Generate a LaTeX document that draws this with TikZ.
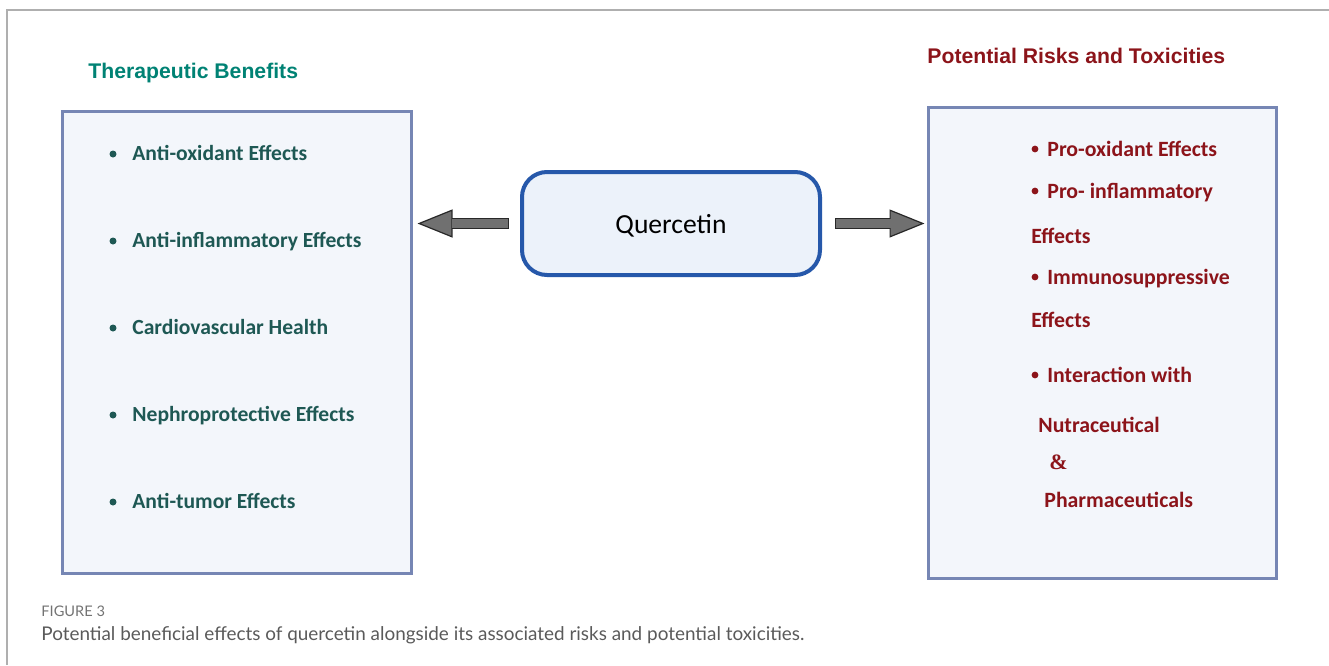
\documentclass[tikz,border=0pt]{standalone}
\usepackage{fontspec}
\setmainfont{Carlito}
\newfontfamily\headfont{Liberation Sans}
\newfontfamily\capfont{Lato}
\newfontfamily\ampfont{Liberation Serif}
\usetikzlibrary{arrows.meta}

\definecolor{framegray}{RGB}{175,175,175}
\definecolor{boxline}{RGB}{118,134,180}
\definecolor{boxfill}{RGB}{243,246,251}
\definecolor{qline}{RGB}{38,88,170}
\definecolor{qfill}{RGB}{236,242,250}
\definecolor{benefithead}{RGB}{0,130,116}
\definecolor{benefittext}{RGB}{30,88,84}
\definecolor{riskred}{RGB}{140,20,26}
\definecolor{arrowgray}{RGB}{112,112,112}
\definecolor{arrowline}{RGB}{40,40,40}
\definecolor{capgray}{RGB}{90,90,90}

\tikzset{
  listbox/.style={draw=boxline, line width=1.5pt, fill=boxfill, inner sep=0pt},
  centrebox/.style={draw=qline, line width=2pt, fill=qfill, rounded corners=12.5pt,
    minimum width=149pt, minimum height=51.5pt, text depth=0pt, font=\fontsize{13.8}{16}\selectfont},
  headline/.style={anchor=base west, inner sep=0pt, font=\headfont\bfseries\fontsize{10.6}{12}\selectfont},
  benefititem/.style={anchor=base west, inner sep=0pt, text=benefittext, font=\bfseries\fontsize{10.8}{12}\selectfont},
  riskitem/.style={anchor=base west, inner sep=0pt, text=riskred, font=\bfseries\fontsize{10.9}{12}\selectfont},
  fatarrow/.style={draw=arrowline, line width=5.5pt,
    -{Triangle[line width=0.6pt, length=17.5pt, width=14pt, fill=arrowgray]},
    postaction={draw=arrowgray, line width=4.3pt, -, shorten <=0.6pt, shorten >=17pt}}
}

\begin{document}
\begin{tikzpicture}[x=0.5pt,y=-0.5pt]
    \useasboundingbox (0,0) rectangle (1329,665);
    \draw[framegray, line width=0.8pt] (7,665) -- (7,10) -- (1329,10);

    % the three boxes
    \node[listbox, minimum width=174.5pt, minimum height=231pt] (benefits) at (236.5,342) {};
    \node[listbox, minimum width=174pt, minimum height=235.5pt] (risks) at (1102,342.5) {};
    \node[centrebox] (quercetin) at (671,223.5) {Quercetin};

    % arrows out of the middle box
    \path (benefits.east |- quercetin.west) ++(5,0) coordinate (ltip);
    \path (risks.west |- quercetin.east) ++(-2,0) coordinate (rtip);
    \draw[fatarrow] ([xshift=-5.5pt]quercetin.west) -- (ltip);
    \draw[fatarrow] ([xshift=6.5pt]quercetin.east) -- (rtip);

    \node[headline, text=benefithead] (benefithd) at (88,78) {Therapeutic Benefits};
    \node[headline, text=riskred] (riskhd) at (927,63) {Potential Risks and Toxicities};

    % left list
    \foreach \y/\lab in {160/Anti-oxidant Effects, 247/Anti-inflammatory Effects,
        334/Cardiovascular Health, 421/Nephroprotective Effects, 508/Anti-tumor Effects} {
      \fill[benefittext] (113,\y-6) circle (1.75pt);
      \node[benefititem] at (132,\y) {\lab};
    }

    % right list
    \foreach \y/\lab in {156/Pro-oxidant Effects, 198/Pro- inflammatory,
        284/Immunosuppressive, 382/Interaction with} {
      \fill[riskred] (1035,\y-7) circle (1.7pt);
      \node[riskitem] at (1047,\y) {\lab};
    }
    \foreach \x/\y/\lab in {1031/243/Effects, 1031/327/Effects,
        1038/432/Nutraceutical, 1044/507/Pharmaceuticals}
      \node[riskitem] at (\x,\y) {\lab};
    \node[riskitem, font=\ampfont\bfseries\fontsize{11}{12}\selectfont] at (1049,469) {\&};

    % caption
    \node[anchor=base west, inner sep=0pt, text=capgray!85, font=\capfont\fontsize{7.3}{8}\selectfont] (fig) at (41,616) {FIGURE 3};
    \node[anchor=base west, inner sep=0pt, text=capgray, font=\capfont\fontsize{9.45}{11}\selectfont] (cap) at (41,640)
      {Potential beneficial effects of quercetin alongside its associated risks and potential toxicities.};
\end{tikzpicture}
\end{document}
